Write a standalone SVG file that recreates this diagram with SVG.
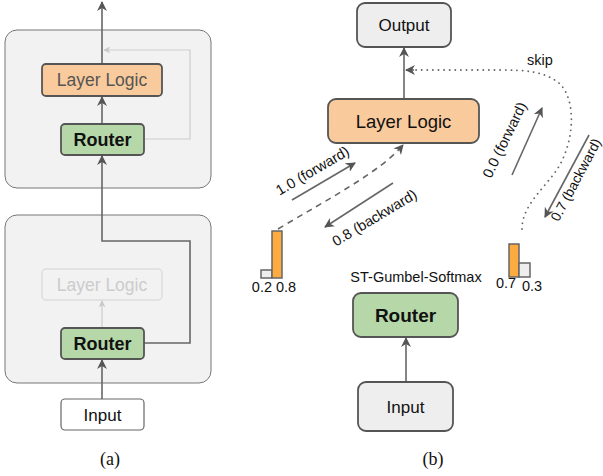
<svg xmlns="http://www.w3.org/2000/svg" width="603" height="476" viewBox="0 0 603 476">
<defs>
<style>
.sans{font-family:"Liberation Sans",Arial,sans-serif;}
.serif{font-family:"Liberation Serif","Times New Roman",serif;}
.container{fill:#f2f2f2;stroke:#777;stroke-width:1;}
.box{stroke:#555;stroke-width:1.8;}
.orange{fill:#f9cb9c;}
.green{fill:#b6d7a8;}
.grey{fill:#eeeeee;}
.white{fill:#ffffff;}
.conn{fill:none;stroke:#666;stroke-width:1.6;}
.faint{fill:none;stroke:#cccccc;stroke-width:1.2;}
.bar-o{fill:#fbab3f;stroke:#666;stroke-width:1.5;}
.bar-g{fill:#eeeeee;stroke:#666;stroke-width:1.5;}
.lbl{font-size:14.5px;fill:#111;}
</style>
<marker id="ah" viewBox="0 0 10 10" refX="9" refY="5" markerWidth="10" markerHeight="10" markerUnits="userSpaceOnUse" orient="auto">
<path d="M0,0 L10,5 L0,10 L3,5 z" fill="#555"/>
</marker>
<marker id="ahf" viewBox="0 0 10 10" refX="9" refY="5" markerWidth="7" markerHeight="7" markerUnits="userSpaceOnUse" orient="auto">
<path d="M0,0 L10,5 L0,10 L3,5 z" fill="#c8c8c8"/>
</marker>
</defs>

<!-- Panel (a) containers -->
<g id="a-container-top"><rect class="container" x="5" y="30" width="206" height="158" rx="12"/></g>
<g id="a-container-bottom"><rect class="container" x="5" y="215" width="206" height="168" rx="12"/></g>

<g id="connectors">
<!-- panel a -->
<path class="conn" d="M102,64 V2" marker-end="url(#ah)"/>
<path class="conn" d="M102,124 V97" marker-end="url(#ah)"/>
<path class="faint" d="M144,139 H190 V50 H104" marker-end="url(#ahf)"/>
<path class="faint" d="M102,328 V301" marker-end="url(#ahf)"/>
<path class="conn" d="M144,343 H190 V241 H102 V156" marker-end="url(#ah)" stroke-width="2"/>
<path class="conn" d="M102,399 V360" marker-end="url(#ah)"/>
<!-- panel b -->
<path class="conn" d="M404,99 V48" marker-end="url(#ah)"/>
<path class="conn" d="M406,382 V338" marker-end="url(#ah)"/>
<path d="M278,229 C330,198 380,172 403,145" fill="none" stroke="#666" stroke-width="1.6" stroke-dasharray="6,5" marker-end="url(#ah)"/>
<path d="M522,229 C522,205 545,188 558,168 C575,140 576,100 560,84 C545,71 525,70 500,70 L413,70" fill="none" stroke="#666" stroke-width="1.8" stroke-dasharray="0.1,5.5" stroke-linecap="round"/>
<path d="M414,70 L406,70" fill="none" stroke="#666" stroke-width="1.6" marker-end="url(#ah)"/>
<path class="conn" d="M292,200 L355,163" marker-end="url(#ah)"/>
<path class="conn" d="M393,183 L325,227" marker-end="url(#ah)"/>
<path class="conn" d="M512,175 L542,108" marker-end="url(#ah)"/>
<path class="conn" d="M589,135 L545,217" marker-end="url(#ah)"/>
</g>

<!-- Panel (a) nodes -->
<g id="a-layer-logic">
<rect class="box orange" x="42" y="64" width="120" height="32" rx="4"/>
<text class="sans" x="102" y="86" text-anchor="middle" font-size="17.5" fill="#555">Layer Logic</text>
</g>
<g id="a-router-top">
<rect class="box green" x="61" y="124" width="83" height="31" rx="4"/>
<text class="sans" x="102.5" y="146" text-anchor="middle" font-size="18" font-weight="bold" fill="#111">Router</text>
</g>
<g id="a-layer-logic-faded">
<rect x="42" y="269" width="120" height="31" rx="4" fill="#f2f2f2" stroke="#dddddd" stroke-width="1.5"/>
<text class="sans" x="102" y="291" text-anchor="middle" font-size="17.5" fill="#cccccc">Layer Logic</text>
</g>
<g id="a-router-bottom">
<rect class="box green" x="61" y="328" width="83" height="31" rx="4"/>
<text class="sans" x="102.5" y="350" text-anchor="middle" font-size="18" font-weight="bold" fill="#111">Router</text>
</g>
<g id="a-input">
<rect x="61" y="399" width="83" height="31" rx="4" fill="#fff" stroke="#666" stroke-width="1.2"/>
<text class="sans" x="102.5" y="421" text-anchor="middle" font-size="17" fill="#111">Input</text>
</g>
<g id="a-caption"><text class="serif" x="110" y="465" text-anchor="middle" font-size="18" fill="#111">(a)</text></g>

<!-- Panel (b) nodes -->
<g id="b-output">
<rect class="box grey" x="357" y="3" width="94" height="44" rx="8"/>
<text class="sans" x="404" y="31" text-anchor="middle" font-size="17" fill="#111">Output</text>
</g>
<g id="b-layer-logic">
<rect class="box orange" x="328" y="99" width="151" height="44" rx="8"/>
<text class="sans" x="403.5" y="128" text-anchor="middle" font-size="18.5" fill="#111">Layer Logic</text>
</g>
<g id="b-router">
<rect class="box green" x="353" y="293" width="105" height="44" rx="8"/>
<text class="sans" x="405.5" y="322" text-anchor="middle" font-size="19" font-weight="bold" fill="#111">Router</text>
</g>
<g id="b-input">
<rect class="box grey" x="358" y="382" width="95" height="49" rx="8"/>
<text class="sans" x="405.5" y="413" text-anchor="middle" font-size="17" fill="#111">Input</text>
</g>
<g id="b-bars-left">
<rect class="bar-g" x="261" y="270" width="11" height="8"/>
<rect class="bar-o" x="272" y="231" width="10" height="47"/>
<text class="sans lbl" x="274" y="292" text-anchor="middle">0.2 0.8</text>
</g>
<g id="b-bars-right">
<rect class="bar-o" x="509" y="244" width="10" height="33"/>
<rect class="bar-g" x="519" y="263" width="11" height="14"/>
<text class="sans lbl" x="506" y="288" text-anchor="middle">0.7</text>
<text class="sans lbl" x="532" y="291" text-anchor="middle">0.3</text>
</g>
<g id="b-labels">
<text class="sans lbl" x="416" y="282" text-anchor="middle">ST-Gumbel-Softmax</text>
<text class="sans lbl" x="540" y="65" text-anchor="middle">skip</text>
<text class="sans lbl" x="315" y="175" text-anchor="middle" transform="rotate(-30.5 315 175)">1.0 (forward)</text>
<text class="sans lbl" x="377" y="222" text-anchor="middle" transform="rotate(-31 377 222)">0.8 (backward)</text>
<text class="sans lbl" x="509" y="142" text-anchor="middle" transform="rotate(-64 509 142)">0.0 (forward)</text>
<text class="sans" x="580" y="182" text-anchor="middle" font-size="13.8" fill="#111" transform="rotate(-62 580 182)">0.7 (backward)</text>
</g>
<g id="b-caption"><text class="serif" x="433" y="465" text-anchor="middle" font-size="18" fill="#111">(b)</text></g>
</svg>
